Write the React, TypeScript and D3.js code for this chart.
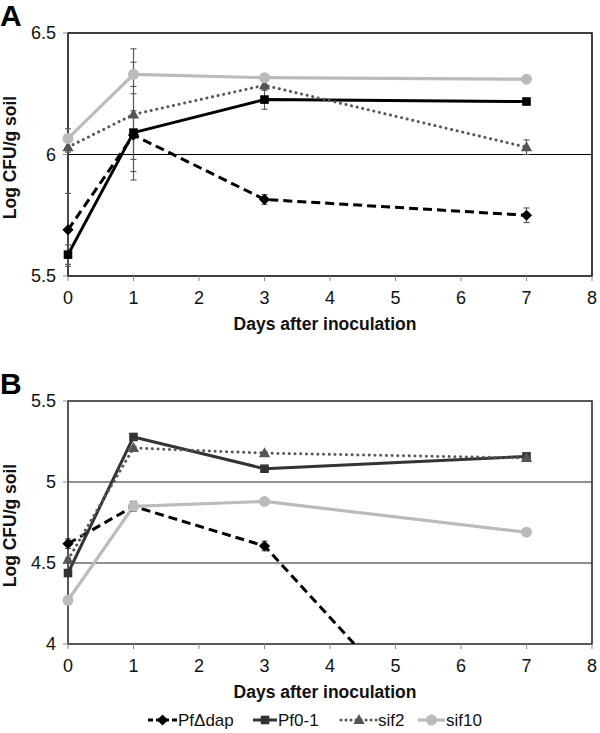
import React from "react";
import * as d3 from "d3";

// ---------- data ----------
const days = [0, 1, 3, 7];
const xTickValues = [0, 1, 2, 3, 4, 5, 6, 7, 8];
const seriesNames = ["PfΔdap", "Pf0-1", "sif2", "sif10"];

// Panel A
const aYTicks = [5.5, 6, 6.5];
const aPfdap = [5.69, 6.08, 5.815, 5.75];
const aPfdapErr = [0.15, 0.1, 0.02, 0.03];
const aPf01 = [5.588, 6.09, 6.226, 6.218];
const aPf01Err = [0.04, 0.16, 0.04, 0.01];
const aSif2 = [6.03, 6.165, 6.285, 6.03];
const aSif2Err = [0.02, 0.27, 0.02, 0.03];
const aSif10 = [6.066, 6.33, 6.316, 6.31];
const aSif10Err = [0.04, 0.05, 0.01, 0.01];

// Panel B
const bYTicks = [4, 4.5, 5, 5.5];
const bPfdap = [4.619, 4.85, 4.605, 2.84];
const bPfdapErr = [0.03, 0.03, 0.03, 0];
const bPf01 = [4.438, 5.278, 5.082, 5.158];
const bPf01Err = [0.01, 0.01, 0.01, 0.01];
const bSif2 = [4.52, 5.21, 5.178, 5.148];
const bSif2Err = [0.01, 0.01, 0.01, 0.01];
const bSif10 = [4.27, 4.85, 4.88, 4.69];
const bSif10Err = [0.01, 0.03, 0.01, 0.01];

// ---------- styles ----------
type Style = { color: string; dash?: string; width: number; cap?: string; marker: string };

const styleA: Style[] = [
  { color: "#000", dash: "9,5", width: 3, marker: "diamond" },
  { color: "#000", width: 3, marker: "square" },
  { color: "#555", dash: "0.01,5.7", width: 3, cap: "round", marker: "triangle" },
  { color: "#bbb", width: 3.2, marker: "circle" },
];
const styleB: Style[] = [
  { color: "#000", dash: "9,5", width: 3, marker: "diamond" },
  { color: "#333", width: 3, marker: "square" },
  { color: "#555", dash: "0.01,5.7", width: 3, cap: "round", marker: "triangle" },
  { color: "#bbb", width: 3.2, marker: "circle" },
];

function markerPath(kind: string): string {
  switch (kind) {
    case "diamond":
      return "M0,-5.6L5.6,0L0,5.6L-5.6,0Z";
    case "square":
      return d3.symbol().type(d3.symbolSquare).size(74)() as string;
    case "triangle":
      return "M0,-6L5.6,4L-5.6,4Z";
    default:
      return d3.symbol().type(d3.symbolCircle).size(95)() as string;
  }
}

const FONT = "Liberation Sans, Arial, sans-serif";

type PanelProps = {
  id: string;
  letter: string;
  top: number;
  domain: [number, number];
  yTicks: number[];
  values: number[][];
  errs: number[][];
  styles: Style[];
  axisColor: string;
};

function Panel({ id, letter, top, domain, yTicks, values, errs, styles, axisColor }: PanelProps) {
  const left = 68;
  const right = 592;
  const height = 243;
  const x = d3.scaleLinear().domain([0, 8]).range([left, right]);
  const y = d3.scaleLinear().domain(domain).range([top + height, top]);
  const line = d3
    .line<number>()
    .x((_, i) => x(days[i]))
    .y((v) => y(v));
  const inside = (v: number) => v >= domain[0] && v <= domain[1];
  return (
    <g>
      <defs>
        <clipPath id={`clip-${id}`}>
          <rect x={left} y={top} width={right - left} height={height} />
        </clipPath>
      </defs>
      <text x={0} y={top - 7} fontFamily={FONT} fontWeight="bold" fontSize={30}>
        {letter}
      </text>
      {/* gridlines */}
      {yTicks
        .filter((t) => t !== domain[0] && t !== domain[1])
        .map((t) => (
          <line key={t} x1={left} x2={right} y1={y(t)} y2={y(t)} stroke={axisColor} strokeWidth={1.1} />
        ))}
      {/* frame */}
      <rect x={left} y={top} width={right - left} height={height} fill="none" stroke={axisColor} strokeWidth={1.5} />
      {/* y ticks */}
      {yTicks.map((t) => (
        <g key={t}>
          <line x1={left - 5} x2={left} y1={y(t)} y2={y(t)} stroke="#888" strokeWidth={1} />
          <text
            x={left - 12}
            y={y(t)}
            dy="0.35em"
            textAnchor="end"
            fontFamily={FONT}
            fontSize={18}
            fill="#111"
          >
            {String(t)}
          </text>
        </g>
      ))}
      {/* x ticks */}
      {xTickValues.map((t) => (
        <g key={t}>
          <line x1={x(t)} x2={x(t)} y1={top + height} y2={top + height + 5} stroke="#888" strokeWidth={1} />
          <text
            x={x(t)}
            y={top + height + 28}
            textAnchor="middle"
            fontFamily={FONT}
            fontSize={18}
            fill="#111"
          >
            {t}
          </text>
        </g>
      ))}
      <text
        x={325}
        y={top + height + 54}
        textAnchor="middle"
        fontFamily={FONT}
        fontWeight="bold"
        fontSize={17.5}
        fill="#111"
      >
        Days after inoculation
      </text>
      <text
        transform={`translate(16,${top + height / 2 + 3}) rotate(-90)`}
        textAnchor="middle"
        fontFamily={FONT}
        fontWeight="bold"
        fontSize={17.5}
        fill="#111"
      >
        Log CFU/g soil
      </text>
      {/* lines (clipped to plot area) */}
      <g clipPath={`url(#clip-${id})`}>
        {values.map((vals, si) => (
          <path
            key={`l${si}`}
            d={line(vals) as string}
            fill="none"
            stroke={styles[si].color}
            strokeWidth={styles[si].width}
            strokeDasharray={styles[si].dash}
            strokeLinecap={(styles[si].cap as any) || "butt"}
            strokeLinejoin="round"
          />
        ))}
      </g>
      {/* error bars */}
      {values.map((vals, si) =>
        vals.map((v, i) =>
          errs[si][i] > 0 && inside(v) ? (
            <g key={`e${si}-${i}`} stroke="#555" strokeWidth={1.1}>
              <line x1={x(days[i])} x2={x(days[i])} y1={y(v - errs[si][i])} y2={y(v + errs[si][i])} />
              <line x1={x(days[i]) - 3} x2={x(days[i]) + 3} y1={y(v - errs[si][i])} y2={y(v - errs[si][i])} />
              <line x1={x(days[i]) - 3} x2={x(days[i]) + 3} y1={y(v + errs[si][i])} y2={y(v + errs[si][i])} />
            </g>
          ) : null
        )
      )}
      {/* markers */}
      {values.map((vals, si) =>
        vals.map((v, i) =>
          inside(v) ? (
            <path
              key={`m${si}-${i}`}
              d={markerPath(styles[si].marker)}
              transform={`translate(${x(days[i])},${y(v)})`}
              fill={styles[si].color}
            />
          ) : null
        )
      )}
    </g>
  );
}

const legendX = [148, 253, 341, 418];
const legendW = [29, 24, 36, 27];

export default function App() {
  return (
    <svg
      width={600}
      height={733}
      style={{ position: "absolute", left: 0, top: 0, background: "#fff" }}
    >
      <rect width={600} height={733} fill="#fff" />
      <Panel
        id="a"
        letter="A"
        top={33}
        domain={[5.5, 6.5]}
        yTicks={aYTicks}
        values={[aPfdap, aPf01, aSif2, aSif10]}
        errs={[aPfdapErr, aPf01Err, aSif2Err, aSif10Err]}
        styles={styleA}
        axisColor="#000"
      />
      <Panel
        id="b"
        letter="B"
        top={401}
        domain={[4, 5.5]}
        yTicks={bYTicks}
        values={[bPfdap, bPf01, bSif2, bSif10]}
        errs={[bPfdapErr, bPf01Err, bSif2Err, bSif10Err]}
        styles={styleB}
        axisColor="#222"
      />
      {/* legend */}
      <g>
        {seriesNames.map((name, i) => {
          const s = styleB[i];
          const x0 = legendX[i];
          const w = legendW[i];
          const cy = 720;
          return (
            <g key={name}>
              <line
                x1={x0}
                x2={x0 + w}
                y1={cy}
                y2={cy}
                stroke={s.color}
                strokeWidth={s.width}
                strokeDasharray={s.dash ? (s.dash === "9,5" ? "5,3" : "0.01,5") : undefined}
                strokeLinecap={(s.cap as any) || "butt"}
              />
              <path d={markerPath(s.marker)} transform={`translate(${x0 + w / 2},${cy})`} fill={s.color} />
              <text x={x0 + w + 1} y={cy} dy="0.35em" fontFamily={FONT} fontSize={17} fill="#111">
                {name}
              </text>
            </g>
          );
        })}
      </g>
    </svg>
  );
}
